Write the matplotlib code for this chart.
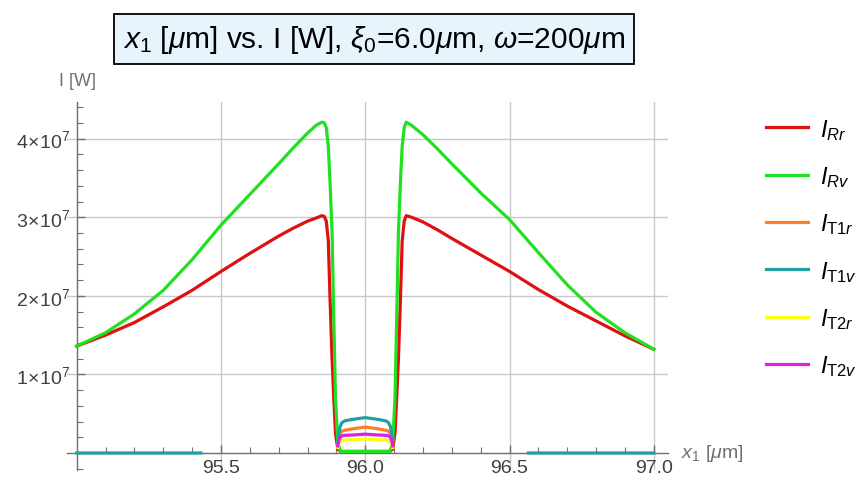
import numpy as np
import matplotlib.pyplot as plt
from matplotlib.ticker import FixedLocator, FuncFormatter

plt.rcParams['font.family'] = ['Liberation Sans', 'DejaVu Sans']
plt.rcParams['mathtext.fontset'] = 'custom'
plt.rcParams['mathtext.rm'] = 'Liberation Sans'
plt.rcParams['mathtext.it'] = 'Liberation Sans:italic'
plt.rcParams['mathtext.bf'] = 'Liberation Sans:bold'

# reflected intensities, x1 in um, I in W
x_R = [95.0, 95.1, 95.2, 95.3, 95.4, 95.5, 95.6, 95.7, 95.75, 95.8, 95.83, 95.85,
       95.858, 95.865, 95.872, 95.878, 95.885, 95.891, 95.897, 95.905, 95.915,
       96.0,
       96.085, 96.095, 96.103, 96.109, 96.115, 96.122, 96.128, 96.135, 96.142,
       96.16, 96.2, 96.25, 96.3, 96.4, 96.5, 96.6, 96.7, 96.8, 96.9, 97.0]
I_Rr = [1.36e7, 1.50e7, 1.66e7, 1.86e7, 2.07e7, 2.31e7, 2.54e7, 2.76e7, 2.86e7, 2.95e7, 2.99e7, 3.02e7,
        3.01e7, 2.95e7, 2.70e7, 1.96e7, 1.2e7, 0.7e7, 0.25e7, 0.05e7, 0.02e7,
        0.02e7,
        0.02e7, 0.05e7, 0.25e7, 0.7e7, 1.2e7, 1.96e7, 2.70e7, 2.95e7, 3.02e7,
        3.00e7, 2.94e7, 2.84e7, 2.73e7, 2.52e7, 2.31e7, 2.08e7, 1.87e7, 1.68e7, 1.49e7, 1.32e7]
I_Rv = [1.36e7, 1.53e7, 1.77e7, 2.07e7, 2.46e7, 2.90e7, 3.29e7, 3.68e7, 3.88e7, 4.07e7, 4.17e7, 4.21e7,
        4.20e7, 4.14e7, 3.90e7, 3.45e7, 2.81e7, 1.7e7, 0.69e7, 0.12e7, 0.02e7,
        0.02e7,
        0.02e7, 0.12e7, 0.69e7, 1.7e7, 2.81e7, 3.45e7, 3.90e7, 4.14e7, 4.21e7,
        4.17e7, 4.05e7, 3.87e7, 3.68e7, 3.31e7, 2.97e7, 2.55e7, 2.14e7, 1.79e7, 1.53e7, 1.32e7]

# transmitted intensities (only defined near the centre and at the edges)
x_T = [95.905, 95.908, 95.913, 95.92, 95.93, 95.96, 96.0, 96.04, 96.07, 96.08,
       96.087, 96.092, 96.095]
I_T1r = [1.0e6, 1.8e6, 2.5e6, 2.8e6, 2.9e6, 3.1e6, 3.3e6, 3.1e6, 2.9e6, 2.8e6,
         2.5e6, 1.8e6, 1.0e6]
I_T2r = [0.7e6, 1.1e6, 1.45e6, 1.6e6, 1.65e6, 1.7e6, 1.8e6, 1.7e6, 1.65e6, 1.6e6,
         1.45e6, 1.1e6, 0.7e6]
I_T2v = [0.9e6, 1.5e6, 2.0e6, 2.2e6, 2.25e6, 2.3e6, 2.4e6, 2.3e6, 2.25e6, 2.2e6,
         2.0e6, 1.5e6, 0.9e6]
x_T1v = [95.0, 95.43, np.nan, 95.905, 95.908, 95.913, 95.92, 95.93, 95.96, 96.0,
         96.04, 96.07, 96.08, 96.087, 96.092, 96.095, np.nan, 96.565, 97.0]
I_T1v = [0.0, 0.0, np.nan, 1.3e6, 2.4e6, 3.4e6, 3.9e6, 4.1e6, 4.3e6, 4.5e6,
         4.3e6, 4.1e6, 3.9e6, 3.4e6, 2.4e6, 1.3e6, np.nan, 0.0, 0.0]

labels = [r'$I_{Rr}$', r'$I_{Rv}$', r'$I_{\mathrm{T1}r}$', r'$I_{\mathrm{T1}v}$',
          r'$I_{\mathrm{T2}r}$', r'$I_{\mathrm{T2}v}$']
colors = ['#e01010', '#20e020', '#ff8020', '#20a0a0', '#ffff10', '#e020e0']

fig = plt.figure(figsize=(8.57, 4.81), dpi=100)
ax = fig.add_axes([0.0777, 0.0218, 0.7017, 0.7647])

lw = 2.3
ax.plot(x_R, I_Rr, color=colors[0], lw=lw, label=labels[0], zorder=3)
ax.plot(x_R, I_Rv, color=colors[1], lw=lw, label=labels[1], zorder=3)
ax.plot(x_T, I_T1r, color=colors[2], lw=lw, label=labels[2], zorder=4)
ax.plot(x_T1v, I_T1v, color=colors[3], lw=lw, label=labels[3], zorder=4)
ax.plot(x_T, I_T2r, color=colors[4], lw=lw, label=labels[4], zorder=4)
ax.plot(x_T, I_T2v, color=colors[5], lw=lw, label=labels[5], zorder=4)

ax.set_xlim(94.965, 97.049)
ax.set_ylim(-2.1e6, 4.47e7)

# Mathematica style axes crossing at (95, 0)
for s in ['top', 'right']:
    ax.spines[s].set_visible(False)
ax.spines['left'].set_position(('data', 95.0))
ax.spines['bottom'].set_position(('data', 0))
for s in ['left', 'bottom']:
    ax.spines[s].set_color('#707070')
    ax.spines[s].set_linewidth(1.0)

ax.xaxis.set_major_locator(FixedLocator([95.5, 96.0, 96.5, 97.0]))
ax.xaxis.set_minor_locator(FixedLocator(np.arange(95.1, 97.05, 0.1)))
ax.yaxis.set_major_locator(FixedLocator([1e7, 2e7, 3e7, 4e7]))
ax.yaxis.set_minor_locator(FixedLocator(np.arange(-2e6, 4.45e7, 2e6)))
ax.xaxis.set_major_formatter(FuncFormatter(lambda v, p: '%.1f' % v))
ax.yaxis.set_major_formatter(FuncFormatter(lambda v, p: r'$%d\!\times\!10^{7}$' % round(v / 1e7)))

ax.tick_params(axis='both', which='both', direction='in', colors='#707070',
               labelcolor='#404040', labelsize=14)
ax.tick_params(axis='both', which='major', length=6, width=1)
ax.tick_params(axis='both', which='minor', length=4, width=0.8)
ax.tick_params(axis='x', pad=4)
ax.tick_params(axis='y', pad=5)

ax.grid(True, which='major', color='#c8c8c8', lw=1.0)
ax.set_axisbelow(True)

fig.text(0.795, 0.058, r'$x_1$ [$\mu$m]', color='#707070', fontsize=14, va='center')
fig.text(0.09, 0.83, 'I [W]', color='#707070', fontsize=13, ha='center', va='center')

fig.text(0.436, 0.916, r'$x_1$ [$\mu$m] vs. I [W], $\xi_0$=6.0$\mu$m, $\omega$=200$\mu$m',
         fontsize=21.5, ha='center', va='center',
         bbox=dict(boxstyle='square,pad=0.3', facecolor='#e8f4fc', edgecolor='black', lw=1.3))

fig.legend(loc='upper left', bbox_to_anchor=(0.88, 0.78), frameon=False, fontsize=17,
           handlelength=1.8, handletextpad=0.5, labelspacing=0.95, borderpad=0)

fig.savefig('out.png', dpi=100)
